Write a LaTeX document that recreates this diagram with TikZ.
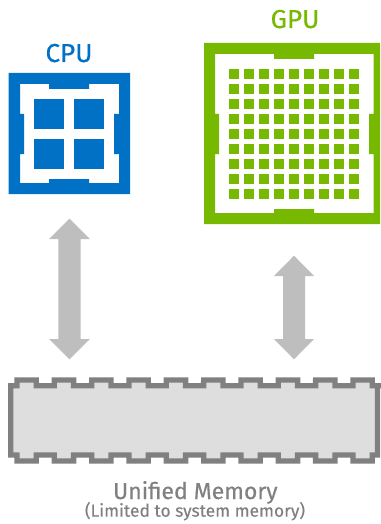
\documentclass[tikz,border=0pt]{standalone}
\usepackage{fontspec}
\setmainfont[FakeBold=0.35]{Fira Sans}
\definecolor{nvblue}{HTML}{0071C5}
\definecolor{nvgreen}{HTML}{76B900}
\definecolor{memgray}{HTML}{808080}
\definecolor{memfill}{HTML}{DEDEDE}
\definecolor{arrowgray}{HTML}{BEBEBE}
\tikzset{
  title/.style={anchor=base,inner sep=0pt,font=\fontsize{26}{26}\selectfont},
  memtext/.style={anchor=base,inner sep=0pt,text=memgray},
  blockarrow/.style={fill=arrowgray,draw=none},
}
\begin{document}
\begin{tikzpicture}[x=1pt,y=-1pt]
\useasboundingbox (0,0) rectangle (380,524);
% CPU
\node[title,text=nvblue] (cputitle) at (69,62) {CPU};
\fill[nvblue,even odd rule] (8.7,73) rectangle (130,194)
  (20,84) -- (49,84) -- (49,89) -- (89,89) -- (89,84) -- (119,84) -- (119,114) -- (114,114) -- (114,154) -- (119,154) -- (119,183)
  -- (89,183) -- (89,179) -- (49,179) -- (49,183) -- (20,183) -- (20,154) -- (24,154) -- (24,114) -- (20,114) -- cycle;
\foreach \x in {34,74} \foreach \y in {99,139}
  \fill[nvblue] (\x,\y) rectangle ++(30,30);
% GPU
\node[title,text=nvgreen] (gputitle) at (295,28) {GPU};
\fill[nvgreen,even odd rule] (204,43) rectangle (380,224)
  (215,54) -- (274,54) -- (274,59) -- (314,59) -- (314,54) -- (373.7,54) -- (373.7,114) -- (369,114) -- (369,154) -- (373.7,154) -- (373.7,213)
  -- (314,213) -- (314,209) -- (274,209) -- (274,213) -- (215,213) -- (215,154) -- (219,154) -- (219,114) -- (215,114) -- cycle;
\foreach \i in {0,...,8} \foreach \j in {0,...,8}
  \fill[nvgreen] ({229+15*\i},{69+15*\j}) rectangle ++(10,10);
% arrows
\fill[blockarrow] (69.5,218.7) -- (90,239) -- (80.7,239) -- (80.7,339) -- (90,339) -- (69.5,359.3) -- (49,339) -- (58.3,339) -- (58.3,239) -- (49,239) -- cycle;
\fill[blockarrow] (294,255.7) -- (314,276) -- (305,276) -- (305,339) -- (314,339) -- (294,359.3) -- (274,339) -- (283,339) -- (283,276) -- (274,276) -- cycle;
% memory
\draw[memgray,line width=5.3pt,fill=memfill,miter limit=10]
  (10.7,385.8) -- (17,385.8)
  \foreach \k in {0,...,9} {
    -- ({17+37.33*\k},380) -- ({36.3+37.33*\k},380) -- ({36.3+37.33*\k},385.8)
    -- ({54.3+37.33*\k},385.8)
  }
  -- (377.4,385.8) -- (377.4,455)
  \foreach \k in {9,8,...,0} {
    -- ({36.3+37.33*\k},455) -- ({36.3+37.33*\k},461) -- ({17+37.33*\k},461) -- ({17+37.33*\k},455)
  }
  -- (10.7,455) -- cycle;
\node[memtext,font=\fontsize{23}{23}\selectfont] (memtitle) at (195.3,499) {Unified Memory};
\node[memtext,font=\fontsize{17.4}{17.4}\selectfont] (memsub) at (195,516.7) {(Limited to system memory)};
\end{tikzpicture}
\end{document}
